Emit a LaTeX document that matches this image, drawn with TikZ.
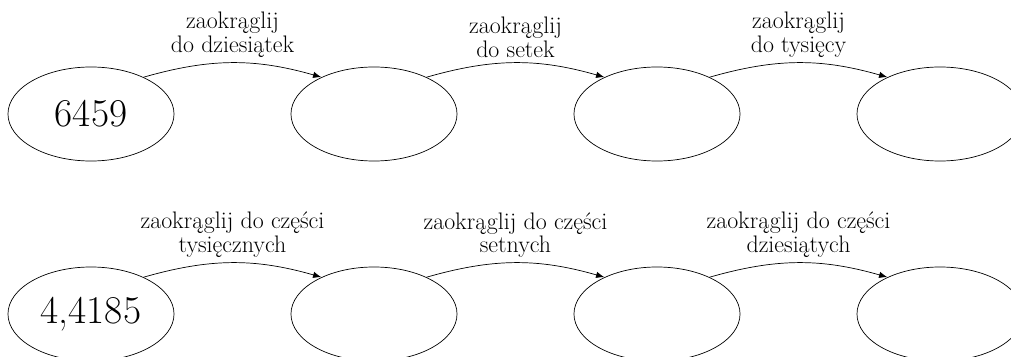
\documentclass[tikz,border=0pt]{standalone}
\usepackage{fontspec}
\usetikzlibrary{shapes.geometric,arrows.meta}

\begin{document}
\begin{tikzpicture}[x=0.025cm, y=0.025cm,
    oval/.style={draw, ellipse, line width=0.5pt, minimum width=4.15cm, minimum height=2.35cm, inner sep=0pt, font=\fontsize{28}{30}\selectfont},
    step arrow/.style={-{Latex[length=6pt,width=4.5pt]}, line width=0.5pt, bend left=16},
    rule label/.style={above=0pt, align=center, font=\fontsize{17}{17}\selectfont}]
        \useasboundingbox (0,0) rectangle (1011,356);
        \clip (0,0) rectangle (1011,356);

        % whole numbers
        \node[oval] (top1) at (91,242) {6459};
        \node[oval] (top2) at (374,242) {};
        \node[oval] (top3) at (657,242) {};
        \node[oval] (top4) at (940,242) {};

        \draw[step arrow] (top1.35) to node[rule label] {zaokrąglij\\do dziesiątek} (top2.145);
        \draw[step arrow] (top2.35) to node[rule label] {zaokrąglij\\do setek} (top3.145);
        \draw[step arrow] (top3.35) to node[rule label] {zaokrąglij\\do tysięcy} (top4.145);

        % decimals
        \node[oval] (bot1) at (91,42) {4,4185};
        \node[oval] (bot2) at (374,42) {};
        \node[oval] (bot3) at (657,42) {};
        \node[oval] (bot4) at (940,42) {};

        \draw[step arrow] (bot1.35) to node[rule label] {zaokrąglij do części\\tysięcznych} (bot2.145);
        \draw[step arrow] (bot2.35) to node[rule label] {zaokrąglij do części\\setnych} (bot3.145);
        \draw[step arrow] (bot3.35) to node[rule label] {zaokrąglij do części\\dziesiątych} (bot4.145);
    \end{tikzpicture}
\end{document}
